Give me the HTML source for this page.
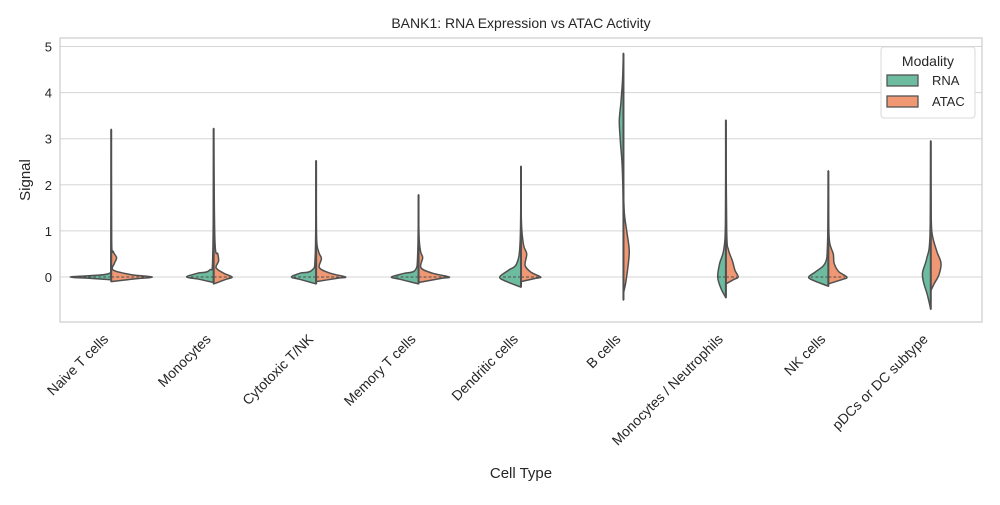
<!DOCTYPE html>
<html><head><meta charset="utf-8"><style>
body{margin:0;background:#fff;font-family:"Liberation Sans",Arial,sans-serif}
text{font-family:"Liberation Sans",Arial,sans-serif;fill:#262626}
</style></head><body>
<svg id="chart" width="1000" height="500" xmlns="http://www.w3.org/2000/svg">
<text x="521" y="28" font-size="14" text-anchor="middle">BANK1: RNA Expression vs ATAC Activity</text>
<g id="grid"></g>
<g id="violins"></g>
<rect x="60" y="38" width="922" height="284" fill="none" stroke="#cccccc" stroke-width="1.2"/>
<g id="axes"></g>
<text transform="translate(30,180) rotate(-90)" font-size="15" text-anchor="middle">Signal</text>
<text x="521" y="478" font-size="15" text-anchor="middle">Cell Type</text>
<g>
<rect x="881" y="47" width="94" height="71" rx="3" fill="#fff" stroke="#d8d8d8"/>
<text x="928" y="66" font-size="14" text-anchor="middle">Modality</text>
<rect x="887" y="75" width="31" height="11" fill="#6dbc9f" stroke="#555" stroke-width="1.3"/>
<text x="932" y="85" font-size="13">RNA</text>
<rect x="887" y="96" width="31" height="11" fill="#ef9873" stroke="#555" stroke-width="1.3"/>
<text x="932" y="106" font-size="13">ATAC</text>
</g>
</svg>
<script>
const categories=["Naive T cells","Monocytes","Cytotoxic T/NK","Memory T cells","Dendritic cells","B cells","Monocytes / Neutrophils","NK cells","pDCs or DC subtype"];
const yTicks=[0,1,2,3,4,5];
// profiles: [value, half-width (fraction of max)]
const rnaProfiles=[
[[-0.06,0],[-0.03,0.5],[0,1.0],[0.03,0.5],[0.08,0.05],[0.3,0.01],[3.2,0]],
[[-0.12,0],[-0.05,0.35],[0,0.66],[0.08,0.4],[0.15,0.1],[0.5,0.02],[3.22,0]],
[[-0.15,0],[-0.05,0.4],[0,0.6],[0.08,0.4],[0.15,0.1],[0.5,0.02],[2.52,0]],
[[-0.15,0],[-0.05,0.45],[0,0.66],[0.08,0.35],[0.15,0.08],[0.5,0.02],[1.78,0]],
[[-0.22,0],[-0.1,0.35],[0,0.52],[0.15,0.3],[0.3,0.1],[0.8,0.02],[2.4,0]],
[[-0.5,0],[1.5,0.005],[2.4,0.03],[3.0,0.08],[3.4,0.1],[3.8,0.06],[4.3,0.02],[4.85,0]],
[[-0.45,0],[-0.25,0.12],[0,0.2],[0.3,0.15],[0.6,0.05],[1.2,0.01],[3.4,0]],
[[-0.2,0],[-0.08,0.35],[0,0.48],[0.12,0.3],[0.3,0.08],[0.7,0.02],[2.3,0]],
[[-0.7,0],[-0.4,0.08],[-0.1,0.18],[0.1,0.2],[0.4,0.1],[0.9,0.02],[2.95,0]]
];
const atacProfiles=[
[[-0.1,0],[-0.04,0.6],[0,1.0],[0.05,0.5],[0.15,0.05],[0.3,0.08],[0.42,0.13],[0.55,0.05],[0.8,0.01],[3.2,0]],
[[-0.15,0],[-0.05,0.3],[0,0.45],[0.08,0.25],[0.2,0.06],[0.35,0.12],[0.5,0.1],[0.8,0.03],[3.22,0]],
[[-0.1,0],[-0.03,0.5],[0,0.72],[0.08,0.35],[0.2,0.08],[0.4,0.13],[0.55,0.06],[0.9,0.01],[2.52,0]],
[[-0.12,0],[-0.03,0.55],[0,0.75],[0.08,0.35],[0.2,0.06],[0.42,0.1],[0.55,0.05],[0.9,0.01],[1.78,0]],
[[-0.1,0],[-0.03,0.35],[0,0.48],[0.1,0.25],[0.25,0.1],[0.5,0.14],[0.7,0.06],[1.2,0.01],[2.4,0]],
[[-0.35,0],[-0.1,0.06],[0.3,0.12],[0.6,0.14],[1.0,0.08],[1.4,0.02],[2.0,0]],
[[-0.15,0],[-0.05,0.2],[0,0.3],[0.15,0.22],[0.35,0.16],[0.6,0.06],[1.0,0.02],[3.4,0]],
[[-0.15,0],[-0.05,0.35],[0,0.45],[0.12,0.25],[0.3,0.14],[0.5,0.12],[0.75,0.03],[1.2,0.01],[2.3,0]],
[[-0.3,0],[-0.15,0.08],[0.05,0.2],[0.3,0.25],[0.55,0.15],[0.9,0.04],[1.3,0.01],[2.95,0]]
];
const X0=60,X1=982,Y_TOP=38,Y_BOT=322;
const yScale=v=>277-v*46.1;
const band=(X1-X0)/categories.length;
const xScale=i=>X0+band*(i+0.5);
const MAXW=41;
const NS="http://www.w3.org/2000/svg";
const grid=document.getElementById('grid'),axes=document.getElementById('axes'),vg=document.getElementById('violins');
function mk(t,a,p){const e=document.createElementNS(NS,t);for(const k in a)e.setAttribute(k,a[k]);p.appendChild(e);return e;}
yTicks.forEach(t=>{
 const l=mk('line',{x1:X0,x2:X1,y1:yScale(t),y2:yScale(t),stroke:'#d5d5d5','stroke-width':1},grid);
 
 
 const tx=mk('text',{x:X0-8,y:yScale(t)+5,'font-size':13,'text-anchor':'end'},axes);
 tx.textContent=t;
 
 
});
function curve(pts){
 let d='';
 for(let i=0;i<pts.length-1;i++){
  const p0=pts[Math.max(0,i-1)],p1=pts[i],p2=pts[i+1],p3=pts[Math.min(pts.length-1,i+2)];
  const c1=[p1[0]+(p2[0]-p0[0])/6,p1[1]+(p2[1]-p0[1])/6],c2=[p2[0]-(p3[0]-p1[0])/6,p2[1]-(p3[1]-p1[1])/6];
  d+=` C${c1[0].toFixed(1)},${c1[1].toFixed(1)} ${c2[0].toFixed(1)},${c2[1].toFixed(1)} ${p2[0].toFixed(1)},${p2[1].toFixed(1)}`;
 }
 return d;
}
function half(i,prof,side,color,name){
 const cx=xScale(i);
 const pts=prof.map(p=>[cx+side*p[1]*MAXW,yScale(p[0])]);
 const d=`M${cx},${pts[0][1]}`+` L${pts[0][0]},${pts[0][1]}`+curve(pts)+` L${cx},${pts[pts.length-1][1]} Z`;
 const p=mk('path',{d:d,fill:color,stroke:'#505050','stroke-width':1.5,'stroke-linejoin':'round'},vg);
 
 
 const mw=prof.reduce((m,q)=>q[0]===0?q[1]:m,0)*MAXW;
 if(mw>2){const m=mk('line',{x1:cx,x2:cx+side*mw*0.9,y1:yScale(0),y2:yScale(0),stroke:'#4d4d4d','stroke-width':1,'stroke-dasharray':'3,2'},vg);
 
 }
}
categories.forEach((c,i)=>{
 half(i,rnaProfiles[i],-1,'#6dbc9f','violin-rna-'+i);
 half(i,atacProfiles[i],1,'#ef9873','violin-atac-'+i);
 const lo=Math.min(rnaProfiles[i][0][0],atacProfiles[i][0][0]);
 const hi=Math.max(rnaProfiles[i][rnaProfiles[i].length-1][0],atacProfiles[i][atacProfiles[i].length-1][0]);
 const l=mk('line',{x1:xScale(i),x2:xScale(i),y1:yScale(lo),y2:yScale(hi),stroke:'#505050','stroke-width':2},vg);
 
 
 const t=mk('text',{'font-size':14,'text-anchor':'end',transform:`translate(${xScale(i)-2},${340}) rotate(-45)`},axes);
 t.textContent=c;
 
 
});
</script>
</body></html>
